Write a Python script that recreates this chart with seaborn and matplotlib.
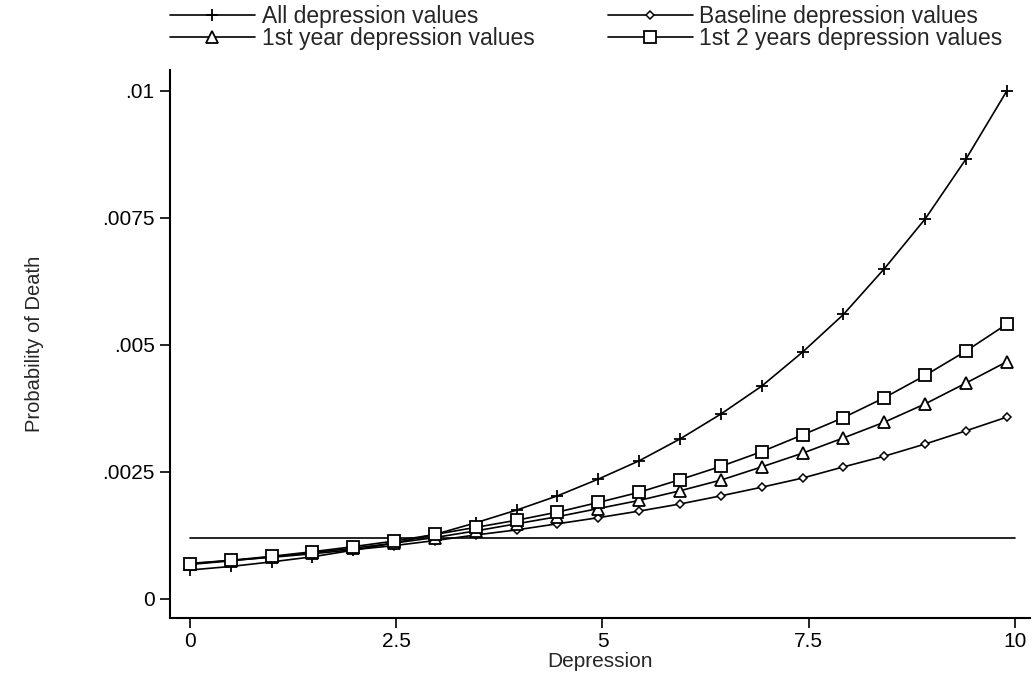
import numpy as np
import pandas as pd
import matplotlib
matplotlib.use("Agg")
import matplotlib.pyplot as plt
import seaborn as sns

# ---- data ----
depression = [0.0, 0.495, 0.99, 1.485, 1.98, 2.475, 2.97, 3.465, 3.96, 4.455, 4.95,
              5.445, 5.94, 6.435, 6.93, 7.425, 7.92, 8.415, 8.91, 9.405, 9.9]
all_vals = [0.00057, 0.00064, 0.00073, 0.00083, 0.00096, 0.00110, 0.00127, 0.00150,
            0.00175, 0.00203, 0.00236, 0.00272, 0.00315, 0.00364, 0.00419, 0.00486,
            0.00560, 0.00650, 0.00748, 0.00866, 0.01000]
baseline_vals = [0.00070, 0.00076, 0.00082, 0.00089, 0.00097, 0.00105, 0.00115, 0.00126,
                 0.00136, 0.00148, 0.00160, 0.00173, 0.00187, 0.00203, 0.00220, 0.00238,
                 0.00260, 0.00281, 0.00305, 0.00331, 0.00358]
year1_vals = [0.00068, 0.00075, 0.00083, 0.00091, 0.00100, 0.00110, 0.00121, 0.00134,
              0.00148, 0.00162, 0.00178, 0.00194, 0.00213, 0.00234, 0.00260, 0.00287,
              0.00317, 0.00348, 0.00384, 0.00425, 0.00467]
year2_vals = [0.00069, 0.00076, 0.00084, 0.00093, 0.00103, 0.00114, 0.00127, 0.00141,
              0.00155, 0.00171, 0.00190, 0.00210, 0.00235, 0.00261, 0.00290, 0.00323,
              0.00357, 0.00396, 0.00440, 0.00488, 0.00541]
reference_level = 0.0012
reference_x = [0.0, 10.0]

series_names = ["All depression values", "Baseline depression values",
                "1st year depression values", "1st 2 years depression values"]
x_ticks = [0, 2.5, 5, 7.5, 10]
x_tick_labels = ["0", "2.5", "5", "7.5", "10"]
y_ticks = [0, 0.0025, 0.005, 0.0075, 0.01]
y_tick_labels = ["0", ".0025", ".005", ".0075", ".01"]

# ---- plot ----
sns.set_theme(style="ticks")
plt.rcParams['font.family'] = ['Liberation Sans', 'DejaVu Sans']

fig = plt.figure(figsize=(10.32, 6.75), dpi=100)
ax = fig.add_axes([170/1032, 1 - 618/675, (1030 - 170)/1032, (618 - 70)/675])

df = pd.DataFrame({
    "Depression": depression * 4,
    "prob": all_vals + baseline_vals + year1_vals + year2_vals,
    "series": sum([[n] * len(depression) for n in series_names], []),
})

styles = {
    "All depression values": dict(marker="+", ms=8, mew=1.3, mfc="none"),
    "Baseline depression values": dict(marker="D", ms=4.2, mew=1.1, mfc="white"),
    "1st year depression values": dict(marker="^", ms=8, mew=1.3, mfc="white"),
    "1st 2 years depression values": dict(marker="s", ms=8.5, mew=1.3, mfc="white"),
}

handles = {}
for name in series_names:
    sub = df[df["series"] == name]
    st = styles[name]
    sns.lineplot(data=sub, x="Depression", y="prob", ax=ax, color="black", lw=1.2,
                 marker=st["marker"], markersize=st["ms"], markeredgewidth=st["mew"],
                 markerfacecolor=st["mfc"], markeredgecolor="black", label=name,
                 legend=False, zorder=3)
    handles[name] = ax.lines[-1]

sns.lineplot(x=reference_x, y=[reference_level] * len(reference_x), ax=ax,
             color="black", lw=1.2, legend=False, zorder=2)

ax.set_xlim(-0.24, 10.18)
ax.set_ylim(-0.000374, 0.01041)
ax.set_xticks(x_ticks)
ax.set_xticklabels(x_tick_labels)
ax.set_yticks(y_ticks)
ax.set_yticklabels(y_tick_labels)
ax.tick_params(axis="both", direction="out", length=7, width=1.2, labelsize=15, colors="black")
ax.tick_params(axis="x", pad=3)
ax.tick_params(axis="y", pad=4)
for s in ["top", "right"]:
    ax.spines[s].set_visible(False)
for s in ["left", "bottom"]:
    ax.spines[s].set_linewidth(1.5)
    ax.spines[s].set_color("black")

ax.set_xlabel("Depression", fontsize=15, labelpad=1)
ax.set_ylabel("Probability of Death", fontsize=14.5, labelpad=42)

leg_order = ["All depression values", "1st year depression values",
             "Baseline depression values", "1st 2 years depression values"]
leg = fig.legend([handles[n] for n in leg_order], leg_order, ncol=2, frameon=False,
                 loc="upper left", bbox_to_anchor=(170/1032, 0.992), fontsize=16.5,
                 handlelength=3.7, handletextpad=0.3, columnspacing=3.2,
                 labelspacing=-0.08, borderaxespad=0.0, borderpad=0.0)

fig.savefig("out.png", dpi=100, facecolor="white")
